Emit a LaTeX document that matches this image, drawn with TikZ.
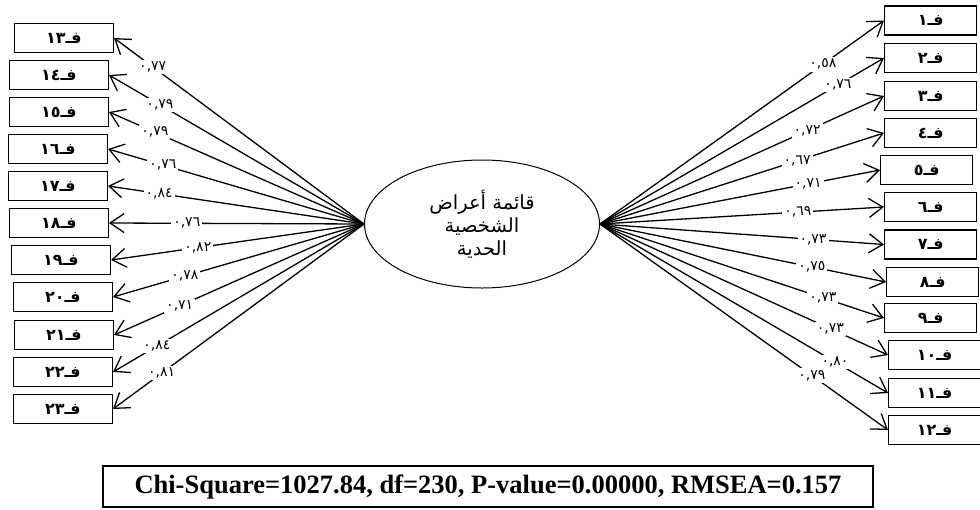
\documentclass[tikz,border=0pt]{standalone}
\usepackage{fontspec}
\setmainfont{Liberation Serif}
\newfontfamily\arabicfont[Script=Arabic]{DejaVu Sans}
\TeXXeTstate=1
\usetikzlibrary{arrows.meta,shapes.geometric}

\tikzset{
  itembox/.style={draw, line width=1.4pt, minimum width=99pt, minimum height=29pt, inner sep=0pt, font=\arabicfont\bfseries\fontsize{16}{18}\selectfont},
  rightbox/.style={itembox, minimum width=92pt, anchor=west},
  leftbox/.style={itembox, anchor=east},
  loading/.style={fill=white, inner sep=2pt, font=\arabicfont\fontsize{14}{16}\selectfont},
  loadarrow/.style={line width=1.3pt, -{Straight Barb[length=14pt,width=19pt,line width=1.3pt]}}
}

\begin{document}
\begin{tikzpicture}[x=1pt, y=-1pt]
      \useasboundingbox (0,0) rectangle (980,509);

      % Latent factor in the middle
      \node[draw, line width=1pt, ellipse, minimum width=235pt, minimum height=128pt, inner sep=0pt, align=center, font=\arabicfont\fontsize{19.5}{23}\selectfont] (fac) at (482,224) {\beginR قائمة أعراض\endR\\ \beginR الشخصية\endR\\ \beginR الحدية\endR};

      % Items on the left side
      \node[leftbox] (q13) at (114,38) {فـ١٣};
      \node[leftbox] (q14) at (109,75) {فـ١٤};
      \node[leftbox] (q15) at (109,112) {فـ١٥};
      \node[leftbox] (q16) at (108,149) {فـ١٦};
      \node[leftbox] (q17) at (108,186) {فـ١٧};
      \node[leftbox] (q18) at (109,223) {فـ١٨};
      \node[leftbox] (q19) at (111,260) {فـ١٩};
      \node[leftbox] (q20) at (113,297) {فـ٢٠};
      \node[leftbox] (q21) at (114,335) {فـ٢١};
      \node[leftbox] (q22) at (113,372) {فـ٢٢};
      \node[leftbox] (q23) at (113,409) {فـ٢٣};

      % Items on the right side
      \node[rightbox] (q1) at (884,20.5) {فـ١};
      \node[rightbox] (q2) at (884,58) {فـ٢};
      \node[rightbox] (q3) at (884,96) {فـ٣};
      \node[rightbox] (q4) at (884,133) {فـ٤};
      \node[rightbox] (q5) at (880,170) {فـ٥};
      \node[rightbox] (q6) at (884,207) {فـ٦};
      \node[rightbox] (q7) at (884,244.5) {فـ٧};
      \node[rightbox] (q8) at (886,282) {فـ٨};
      \node[rightbox] (q9) at (884,318) {فـ٩};
      \node[rightbox] (q10) at (888,355) {فـ١٠};
      \node[rightbox] (q11) at (888,393) {فـ١١};
      \node[rightbox] (q12) at (888,430) {فـ١٢};

      % Loadings, left
      \draw[loadarrow] (fac.west) -- node[loading, pos=0.845] {٠,٧٧} (q13.east);
      \draw[loadarrow] (fac.west) -- node[loading, pos=0.80] {٠,٧٩} (q14.east);
      \draw[loadarrow] (fac.west) -- node[loading, pos=0.82] {٠,٧٩} (q15.east);
      \draw[loadarrow] (fac.west) -- node[loading, pos=0.786] {٠,٧٦} (q16.east);
      \draw[loadarrow] (fac.west) -- node[loading, pos=0.80] {٠,٨٤} (q17.east);
      \draw[loadarrow] (fac.west) -- node[loading, pos=0.695] {٠,٧٦} (q18.east);
      \draw[loadarrow] (fac.west) -- node[loading, pos=0.657] {٠,٨٢} (q19.east);
      \draw[loadarrow] (fac.west) -- node[loading, pos=0.714] {٠,٧٨} (q20.east);
      \draw[loadarrow] (fac.west) -- node[loading, pos=0.737] {٠,٧١} (q21.east);
      \draw[loadarrow] (fac.west) -- node[loading, pos=0.825] {٠,٨٤} (q22.east);
      \draw[loadarrow] (fac.west) -- node[loading, pos=0.806] {٠,٨١} (q23.east);

      % Loadings, right
      \draw[loadarrow] (fac.east) -- node[loading, pos=0.785] {٠,٥٨} (q1.west);
      \draw[loadarrow] (fac.east) -- node[loading, pos=0.838] {٠,٧٦} (q2.west);
      \draw[loadarrow] (fac.east) -- node[loading, pos=0.729] {٠,٧٢} (q3.west);
      \draw[loadarrow] (fac.east) -- node[loading, pos=0.694] {٠,٦٧} (q4.west);
      \draw[loadarrow] (fac.east) -- node[loading, pos=0.743] {٠,٧١} (q5.west);
      \draw[loadarrow] (fac.east) -- node[loading, pos=0.697] {٠,٦٩} (q6.west);
      \draw[loadarrow] (fac.east) -- node[loading, pos=0.75] {٠,٧٣} (q7.west);
      \draw[loadarrow] (fac.east) -- node[loading, pos=0.741] {٠,٧٥} (q8.west);
      \draw[loadarrow] (fac.east) -- node[loading, pos=0.785] {٠,٧٣} (q9.west);
      \draw[loadarrow] (fac.east) -- node[loading, pos=0.80] {٠,٧٣} (q10.west);
      \draw[loadarrow] (fac.east) -- node[loading, pos=0.816] {٠,٨٠} (q11.west);
      \draw[loadarrow] (fac.east) -- node[loading, pos=0.736] {٠,٧٩} (q12.west);

      % Fit indices
      \node[draw, line width=1.4pt, minimum width=770pt, minimum height=41pt, inner sep=0pt, font=\bfseries\fontsize{26.5}{30}\selectfont] (fitbox) at (488,486.5) {Chi-Square=1027.84, df=230, P-value=0.00000, RMSEA=0.157};
\end{tikzpicture}
\end{document}
